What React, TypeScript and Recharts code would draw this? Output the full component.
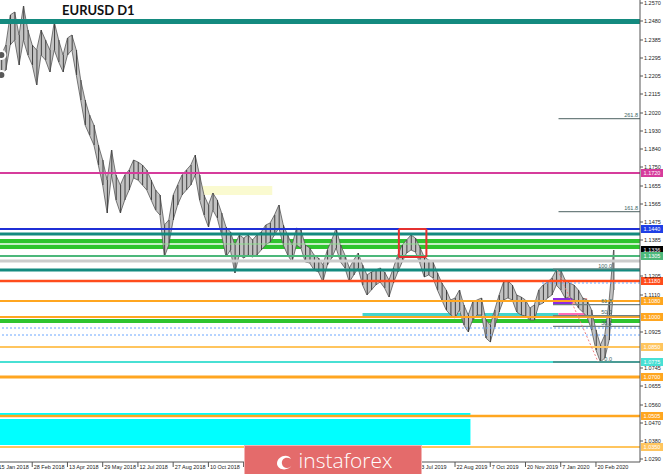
import React from "react";
import {
  ComposedChart,
  Area,
  Bar,
  XAxis,
  YAxis,
  ReferenceLine,
  ReferenceArea,
} from "recharts";

// one sample every 4 daily bars
const BAR_STEP = 4;

const highs = [
  1.2285, 1.231, 1.236, 1.251, 1.2525, 1.241, 1.2555, 1.2435, 1.236, 1.2335,
  1.2435, 1.2385, 1.2335, 1.2475, 1.2385, 1.231, 1.2395, 1.241, 1.2335, 1.2185,
  1.2085, 1.201, 1.196, 1.186, 1.1785, 1.1685, 1.1835, 1.171, 1.166, 1.171,
  1.1735, 1.1785, 1.1775, 1.176, 1.1735, 1.1685, 1.1635, 1.161, 1.146, 1.1485,
  1.161, 1.166, 1.171, 1.1735, 1.176, 1.181, 1.171, 1.161, 1.156, 1.162,
  1.1585, 1.152, 1.145, 1.1425, 1.136, 1.141, 1.1395, 1.141, 1.1385, 1.141,
  1.1425, 1.146, 1.147, 1.151, 1.156, 1.146, 1.141, 1.136, 1.1445, 1.1435,
  1.136, 1.1345, 1.131, 1.1295, 1.126, 1.1335, 1.1385, 1.1445, 1.136, 1.131,
  1.1245, 1.1285, 1.132, 1.126, 1.121, 1.1225, 1.1235, 1.1245, 1.1225, 1.1185,
  1.1245, 1.131, 1.136, 1.1385, 1.141, 1.1395, 1.135, 1.13, 1.1285, 1.1275,
  1.122, 1.117, 1.1135, 1.1085, 1.1095, 1.1135, 1.106, 1.101, 1.1075, 1.1085,
  1.1095, 1.0985, 1.096, 1.1035, 1.111, 1.1175, 1.118, 1.116, 1.111, 1.11,
  1.1085, 1.1045, 1.106, 1.1135, 1.116, 1.1175, 1.1195, 1.1235, 1.1235, 1.1185,
  1.117, 1.116, 1.1135, 1.1095, 1.1085, 1.1035, 1.0935, 1.086, 1.091, 1.1085,
  1.1335,
];

const lows = [
  1.2185, 1.221, 1.2235, 1.236, 1.2385, 1.226, 1.2385, 1.231, 1.226, 1.216,
  1.231, 1.2285, 1.2225, 1.2335, 1.2275, 1.2225, 1.231, 1.2335, 1.221, 1.2085,
  1.196, 1.191, 1.186, 1.176, 1.166, 1.152, 1.171, 1.1585, 1.152, 1.1585,
  1.1635, 1.1695, 1.1685, 1.166, 1.1635, 1.1585, 1.1535, 1.151, 1.13, 1.136,
  1.1485, 1.156, 1.161, 1.1635, 1.166, 1.171, 1.1585, 1.151, 1.145, 1.1535,
  1.1495, 1.141, 1.13, 1.1335, 1.122, 1.131, 1.1295, 1.131, 1.13, 1.131,
  1.1335, 1.136, 1.1375, 1.141, 1.1445, 1.136, 1.131, 1.1275, 1.136, 1.1345,
  1.1275, 1.127, 1.1235, 1.1225, 1.1175, 1.126, 1.1295, 1.1345, 1.1275, 1.1245,
  1.1175, 1.121, 1.1245, 1.116, 1.111, 1.1135, 1.116, 1.1175, 1.1145, 1.11,
  1.117, 1.1225, 1.1275, 1.132, 1.1335, 1.1325, 1.127, 1.12, 1.121, 1.1195,
  1.1135, 1.1085, 1.1035, 1.101, 1.0995, 1.1035, 1.096, 1.0925, 1.0985, 1.101,
  1.101, 1.0895, 1.0875, 1.095, 1.1025, 1.1085, 1.1095, 1.1085, 1.1025, 1.101,
  1.1005, 1.0985, 1.0985, 1.106, 1.107, 1.1095, 1.111, 1.116, 1.1135, 1.1095,
  1.11, 1.1085, 1.1045, 1.1025, 1.1, 1.0935, 1.0835, 1.0775, 1.0795, 1.0885,
  1.1135,
];

const dateTicks = [
  0, 32, 64, 96, 128, 160, 192, 224, 256, 288, 320, 352, 384, 416, 448, 480,
  512, 544,
];
// labels under the logo are not visible in the picture
const dateLabels = [
  "15 Jan 2018", "28 Feb 2018", "13 Apr 2018", "29 May 2018", "12 Jul 2018",
  "27 Aug 2018", "10 Oct 2018", "", "", "", "", "", "3 Jul 2019",
  "22 Aug 2019", "7 Oct 2019", "20 Nov 2019", "7 Jan 2020", "20 Feb 2020",
];

const priceTicks = [
  1.257, 1.248, 1.2385, 1.2295, 1.2205, 1.2115, 1.202, 1.193, 1.184, 1.175,
  1.1655, 1.1565, 1.1475, 1.1385, 1.1205, 1.111, 1.0925, 1.0745, 1.0655,
  1.056, 1.047, 1.038, 1.029,
];

// fibonacci levels drawn on the last swing
const fibLevels = [
  { level: "261.8", price: 1.1992, endLabel: true },
  { level: "161.8", price: 1.1527, endLabel: true },
  { level: "100.0", price: 1.124, endLabel: false },
  { level: "61.8", price: 1.1062, endLabel: false },
  { level: "50.0", price: 1.1007, endLabel: false },
  { level: "38.2", price: 1.0953, endLabel: false },
  { level: "0.0", price: 1.0775, endLabel: false },
];

const priceData = highs.map((high, i) => ({
  bar: i * BAR_STEP,
  range: [lows[i], high],
}));

const FONT = "Liberation Sans, Arial, sans-serif";
const TEAL = "#148a7f";
const ORANGE = "#ffa620";
const LIGHT_ORANGE = "#ffc55e";
const BOX_RED = "#e53030";

function DateTick(props: any) {
  const { x, y, payload } = props;
  const i = dateTicks.indexOf(payload.value);
  return (
    <text x={x + 1.5} y={y + 2} fontSize={5.5} fill="#222" fontFamily={FONT}>
      {dateLabels[i]}
    </text>
  );
}

function PriceTag(props: any) {
  const { viewBox, text, color, textColor = "#fff" } = props;
  if (!viewBox) return null;
  const left = viewBox.x + viewBox.width + 1;
  return (
    <g>
      <rect x={left} y={viewBox.y - 4} width={22} height={8} fill={color} />
      <text
        x={left + 11}
        y={viewBox.y + 2}
        textAnchor="middle"
        fontSize={5.5}
        fill={textColor}
        fontFamily={FONT}
      >
        {text}
      </text>
    </g>
  );
}

function FibText(props: any) {
  const { viewBox, text, inset = 2 } = props;
  if (!viewBox) return null;
  return (
    <text
      x={viewBox.x + viewBox.width - inset}
      y={viewBox.y - 1.5}
      textAnchor="end"
      fontSize={5.5}
      fill="#3d6464"
      fontFamily={FONT}
    >
      {text}
    </text>
  );
}

function Logo() {
  return (
    <div
      style={{
        position: "absolute",
        left: 244,
        top: 445,
        width: 178,
        height: 32,
        background: "#e46b6b",
        border: "1px solid #f2b4b4",
        boxSizing: "border-box",
        display: "flex",
        alignItems: "flex-start",
        justifyContent: "center",
        paddingTop: 1,
        gap: 5,
      }}
    >
      <svg width={20} height={22} style={{ marginTop: 3 }}>
        <path
          d="M3 14 C3 6, 14 3, 17 9 C12 6, 7 9, 8 14 C9 19, 16 19, 18 15 C15 21, 4 21, 3 14 Z"
          fill="#fff"
        />
      </svg>
      <span
        style={{
          color: "#fff",
          fontFamily: "Open Sans, sans-serif",
          fontSize: 21,
          fontWeight: 300,
          lineHeight: "26px",
        }}
      >
        instaforex
      </span>
    </div>
  );
}

export default function App() {
  return (
    <div
      style={{
        position: "fixed",
        left: 0,
        top: 0,
        width: 665,
        height: 474,
        overflow: "hidden",
        background: "#fff",
      }}
    >
      <div style={{ position: "absolute", left: -3, top: 0 }}>
        <ComposedChart
          width={668}
          height={474}
          data={priceData}
          margin={{ top: 0, right: 0, left: 0, bottom: 0 }}
        >
          <XAxis
            dataKey="bar"
            type="number"
            domain={[0, 584]}
            ticks={dateTicks}
            interval={0}
            height={12}
            tickSize={5}
            tickMargin={0}
            tick={<DateTick />}
            stroke="#555"
            allowDataOverflow
          />
          <YAxis
            orientation="right"
            width={25}
            type="number"
            domain={[1.0275, 1.2585]}
            ticks={priceTicks}
            interval={0}
            tickFormatter={(v: number) => v.toFixed(4)}
            tick={{ fontSize: 5.5, fill: "#222", fontFamily: FONT }}
            tickSize={3}
            tickMargin={1}
            stroke="#555"
            allowDataOverflow
          />

          {/* zones */}
          <ReferenceArea x1={185} x2={250} y1={1.161} y2={1.1655} fill="#fafad0" fillOpacity={1} />
          <ReferenceArea y1={1.137} y2={1.139} fill="#2fc42f" fillOpacity={1} />
          <ReferenceArea y1={1.134} y2={1.136} fill="#2fc42f" fillOpacity={1} />
          <ReferenceArea x1={332} x2={510} y1={1.0995} y2={1.102} fill="#44d4cc" fillOpacity={1} />
          <ReferenceArea x1={510} x2={537} y1={1.0995} y2={1.102} fill="#ff6cb8" fillOpacity={1} />
          <ReferenceArea x1={505} x2={523} y1={1.1065} y2={1.1095} fill="#8a2be2" fillOpacity={1} />
          <ReferenceArea x1={523} x2={536} y1={1.1065} y2={1.1095} fill="#f4a4a4" fillOpacity={1} />
          <ReferenceArea y1={1.097} y2={1.099} fill="#2fc42f" fillOpacity={1} />
          <ReferenceArea x1={0} x2={430} y1={1.036} y2={1.049} fill="#00ffff" fillOpacity={1} />

          <Area
            dataKey="range"
            type="linear"
            fill="#c2c2c2"
            fillOpacity={1}
            stroke="#585858"
            strokeWidth={0.8}
            isAnimationActive={false}
          />
          <Bar
            dataKey="range"
            fill="#404040"
            barSize={1}
            isAnimationActive={false}
          />

          {/* horizontal levels */}
          <ReferenceLine y={1.2478} stroke={TEAL} strokeWidth={5} />
          <ReferenceLine y={1.172} stroke="#d63c9c" strokeWidth={2} label={<PriceTag text="1.1720" color="#d63c9c" />} />
          <ReferenceLine y={1.144} stroke="#1f2fd6" strokeWidth={2} label={<PriceTag text="1.1440" color="#1f3fe6" />} />
          <ReferenceLine y={1.1415} stroke={TEAL} strokeWidth={3} />
          <ReferenceLine y={1.1365} stroke="#8ee08e" strokeWidth={1} />
          <ReferenceLine y={1.1335} stroke="none" label={<PriceTag text="1.1336" color="#000" />} />
          <ReferenceLine y={1.1305} stroke="#4cb87a" strokeWidth={2} label={<PriceTag text="1.1305" color="#4cb87a" />} />
          <ReferenceLine y={1.128} stroke="#cccccc" strokeWidth={3} />
          <ReferenceLine y={1.1235} stroke={TEAL} strokeWidth={3} />
          <ReferenceLine y={1.118} stroke="#ff4c1c" strokeWidth={2.5} label={<PriceTag text="1.1180" color="#ff4c1c" />} />
          <ReferenceLine y={1.108} stroke={ORANGE} strokeWidth={2} label={<PriceTag text="1.1080" color={ORANGE} />} />
          <ReferenceLine y={1.1} stroke={ORANGE} strokeWidth={2} label={<PriceTag text="1.1000" color={ORANGE} />} />
          <ReferenceLine y={1.0945} stroke="#6aa6ff" strokeDasharray="2 2" />
          <ReferenceLine y={1.091} stroke="#6aa6ff" strokeDasharray="2 2" />
          <ReferenceLine y={1.085} stroke={LIGHT_ORANGE} strokeWidth={2} label={<PriceTag text="1.0850" color={LIGHT_ORANGE} />} />
          <ReferenceLine y={1.0775} stroke="#48e0d4" strokeWidth={2} label={<PriceTag text="1.0775" color="#48e0d4" />} />
          <ReferenceLine y={1.07} stroke={ORANGE} strokeWidth={3} label={<PriceTag text="1.0700" color={ORANGE} />} />
          <ReferenceLine segment={[{ x: 0, y: 1.0515 }, { x: 430, y: 1.0515 }]} stroke="#00ffff" strokeWidth={2} />
          <ReferenceLine y={1.0505} stroke={ORANGE} strokeWidth={2.5} label={<PriceTag text="1.0505" color={ORANGE} />} />
          <ReferenceLine y={1.035} stroke={LIGHT_ORANGE} strokeWidth={2} label={<PriceTag text="1.0350" color={LIGHT_ORANGE} />} />
          <ReferenceLine segment={[{ x: 495, y: 1.117 }, { x: 584, y: 1.117 }]} stroke="#6aa6ff" strokeDasharray="2 2" />

          {/* fibonacci */}
          {fibLevels.map((f) => (
            <ReferenceLine
              key={f.level}
              segment={[
                { x: f.endLabel ? 510 : 505, y: f.price },
                { x: 584, y: f.price },
              ]}
              stroke={f.level === "0.0" ? "#4d5656" : "#6f8080"}
              strokeWidth={1.2}
              label={<FibText text={f.level} inset={f.endLabel ? 2 : 28} />}
            />
          ))}
          <ReferenceLine
            segment={[{ x: 509, y: 1.1235 }, { x: 546, y: 1.0775 }]}
            stroke="#f08080"
            strokeDasharray="2 2"
          />

          {/* highlighted zone, drawn as four sides so it sits above the levels */}
          <ReferenceLine segment={[{ x: 365, y: 1.144 }, { x: 390, y: 1.144 }]} stroke={BOX_RED} strokeWidth={2} />
          <ReferenceLine segment={[{ x: 365, y: 1.13 }, { x: 390, y: 1.13 }]} stroke={BOX_RED} strokeWidth={2} />
          <ReferenceLine segment={[{ x: 365, y: 1.13 }, { x: 365, y: 1.144 }]} stroke={BOX_RED} strokeWidth={2} />
          <ReferenceLine segment={[{ x: 390, y: 1.13 }, { x: 390, y: 1.144 }]} stroke={BOX_RED} strokeWidth={2} />
        </ComposedChart>
      </div>

      <div
        style={{
          position: "absolute",
          left: 62,
          top: 2,
          fontFamily: "Lato, sans-serif",
          fontWeight: 700,
          fontSize: 13,
          color: "#111",
        }}
      >
        EURUSD D1
      </div>
      <Logo />
    </div>
  );
}
